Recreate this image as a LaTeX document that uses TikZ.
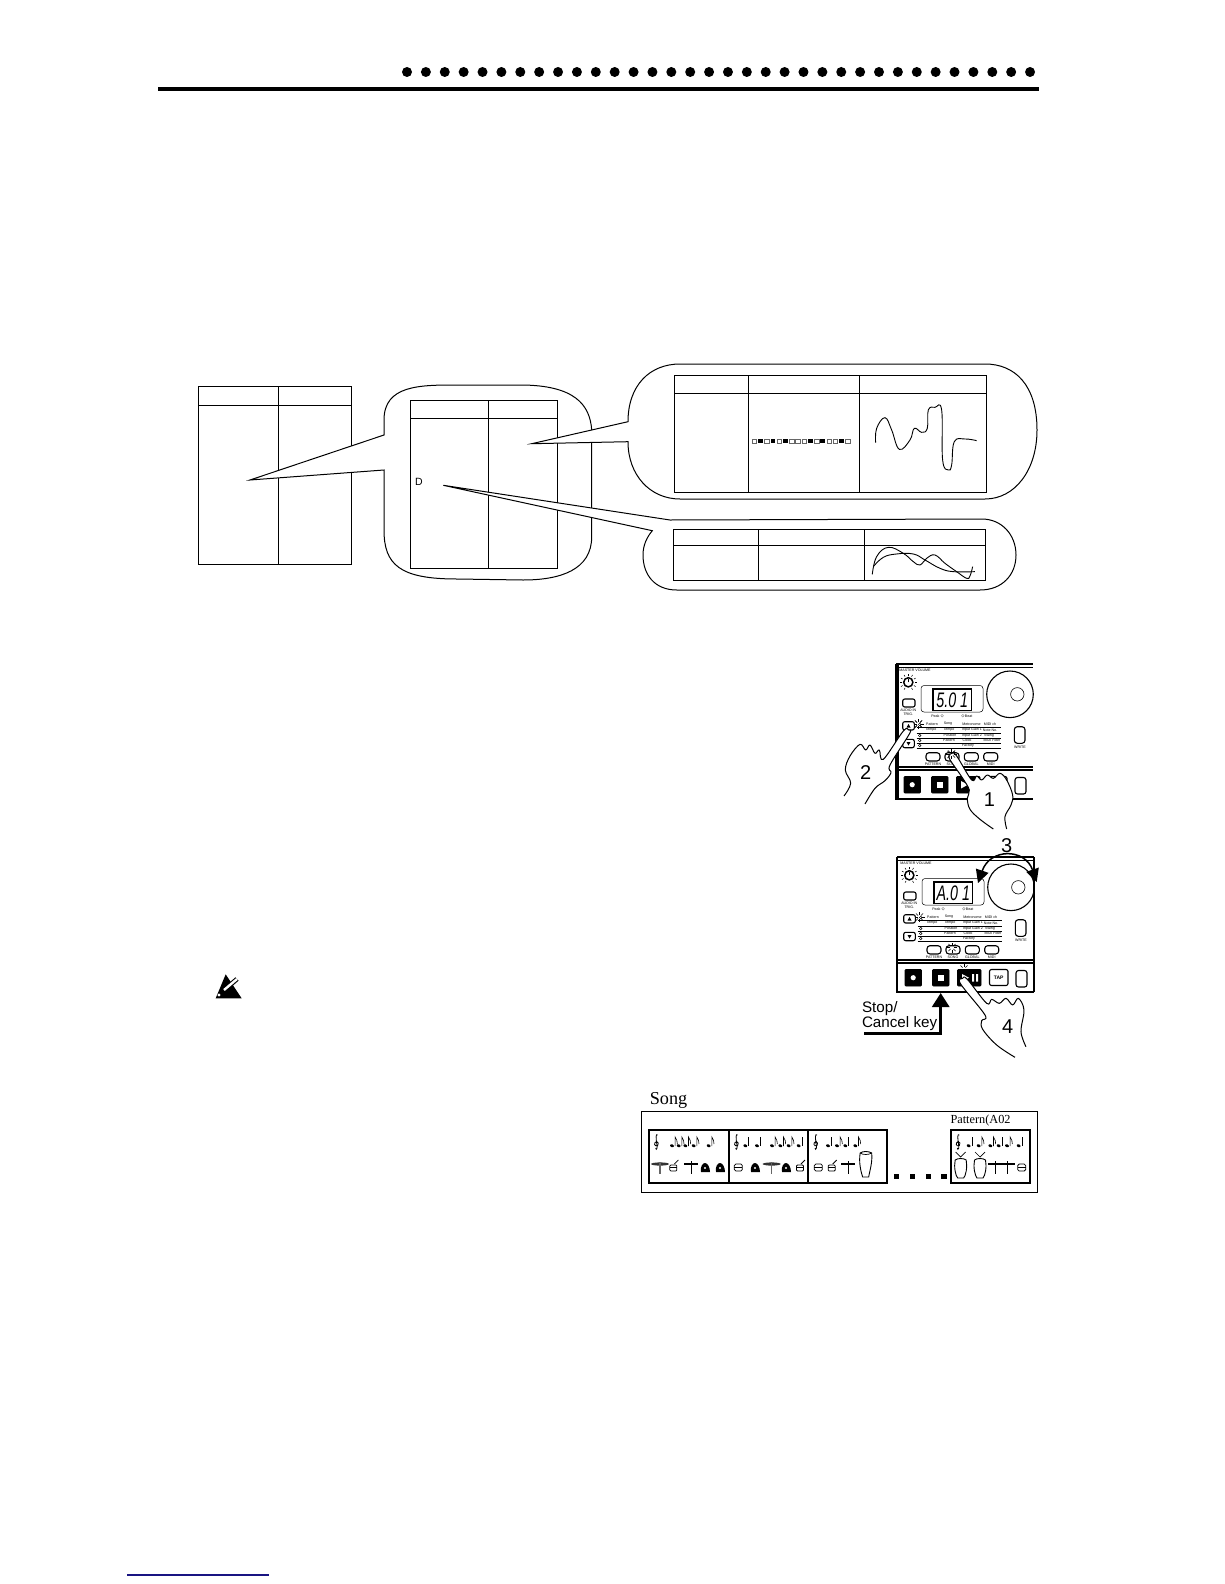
\documentclass[tikz,border=0pt]{standalone}
\usepackage{fontspec}
\setmainfont{Liberation Sans}
\newfontfamily\songfont{Liberation Serif}
\usetikzlibrary{arrows.meta,calc}
\definecolor{footblue}{RGB}{25,20,130}

\begin{document}
\begin{tikzpicture}[x=1pt,y=-1pt,line width=1pt,>={Triangle[length=13pt,width=13pt]},
    hdot/.style={circle,fill,inner sep=0pt,minimum size=10pt},
    grid/.style={draw,line width=1pt},
    bubble/.style={draw,fill=white,line width=1pt},
    curve/.style={line width=.9pt,smooth,tension=.7},
    hand/.style={draw,fill=white,line width=1pt,line join=round},
    third/.style={x=.3333pt,y=-.3333pt},
    numlabel/.style={font=\fontsize{20}{20}\selectfont,inner sep=0pt},
    paneltext/.style={font=\fontsize{3.6}{4}\selectfont,inner sep=0pt},
    softbutton/.style={draw,fill=white,rounded corners=2pt,line width=1.1pt},
    blackbutton/.style={draw,fill=black,line width=.8pt,rounded corners=1pt},
    frame/.style={draw,line width=2pt},
    flash/.pic={\foreach \a in {0,45,...,315} \draw[line width=.6pt] (\a:2pt) -- (\a:5pt);},
    clef/.pic={\draw[line width=.8pt] (1,-7) .. controls (-1,-9) and (-1,-4) .. (.5,4) .. controls (1,8) and (-2,8) .. (-1,6);
               \draw[line width=.8pt] (.5,-1) .. controls (-4,1) and (-2,5) .. (1,3.5) .. controls (3,2) and (1,-1) .. (-.5,1);},
    qnote/.pic={\fill[rotate=-20] (0,4) ellipse (2pt and 1.4pt); \draw[line width=.6pt] (1.8,4) -- (1.8,-5);},
    enote/.pic={\fill[rotate=-20] (0,4) ellipse (2pt and 1.4pt); \draw[line width=.6pt] (1.8,4) -- (1.8,-5) .. controls (2.5,-2) and (5,-1) .. (4,2);},
    cymbal/.pic={\fill[black!80] (0,-2) ellipse (9pt and 1.6pt); \draw[line width=1.2pt,black!60] (0,-4) -- (0,8);},
    tstand/.pic={\draw[line width=1.2pt] (-7,-2) -- (7,-2); \draw[line width=.9pt] (0,-5) -- (0,8);},
    drum/.pic={\draw[line width=.8pt,rounded corners=1.5pt] (-4,-3) rectangle (4,4); \draw[line width=.7pt] (-4,0) -- (4,0);},
    snare/.pic={\draw[line width=.8pt,rounded corners=1pt] (-3.5,-1) rectangle (3.5,5); \draw[line width=.7pt] (-3.5,1) -- (3.5,1); \draw[line width=.8pt] (1,-2) -- (5,-6);},
    bell/.pic={\fill (-4,5) .. controls (-5,-1) and (-2,-4) .. (0,-4) .. controls (3,-4) and (5,1) .. (5,5) -- cycle; \fill[white] (0,1) circle (1.2pt);},
    conga/.pic={\draw[line width=.9pt] (-5.5,-12) .. controls (-3,-14) and (3,-14) .. (6,-12) .. controls (7,-3) and (4,6) .. (3,12) -- (-3,12) .. controls (-5,6) and (-7,-3) .. (-5.5,-12);
                \draw[line width=.7pt] (-5.5,-12) .. controls (-3,-10) and (3,-10) .. (6,-12);},
    stickconga/.pic={\draw[line width=.9pt] (-5.5,-5) .. controls (-3,-7) and (3,-7) .. (5.5,-5) .. controls (7,2) and (5,11) .. (3,13) -- (-3,13) .. controls (-5,11) and (-7,2) .. (-5.5,-5);
                \draw[line width=.7pt] (-5,-13) -- (0,-8) -- (5,-13);},
    panel/.pic={
        % outline of the unit
        \draw[line width=1.2pt] (0,0) -- (137,0) (0,3.2) -- (137,3.2) (0,0) -- (0,135) -- (137,135);
        \draw[line width=1.2pt] (0,103) -- (137,103) (0,106) -- (137,106);
        \node[paneltext] (vollabel) at (19,6.5) {MASTER VOLUME};
        \draw[line width=1.5pt] (12.3,18.3) circle (4.6pt);
        \draw[line width=1pt] (12.3,18.3) -- (12.3,14.5);
        \foreach \a in {-60,-30,...,240} \draw[line width=.5pt] ($(12.3,18.3)+(\a:6.5pt)$) -- ($(12.3,18.3)+(\a:8.5pt)$);
        \draw[line width=.5pt,rounded corners=3pt] (25,21.5) rectangle (87,48);
        \draw[line width=1.2pt] (37,25) rectangle (75.5,46.5);
        \node[inner sep=0pt,font=\fontsize{21}{21}\selectfont\itshape] (digits) at (56.3,36) {\scalebox{.68}[1]{#1}};
        \draw[line width=1.1pt] (114,30.3) circle (23.3pt);
        \draw[line width=.6pt] (121.3,30.3) circle (6.7pt);
        \draw[softbutton] (6.7,35) rectangle (19,43);
        \node[paneltext,align=center] (trig) at (12.3,48) {AUDIO IN\\TRIG.};
        \node[paneltext] (peak) at (41.7,52.7) {Peak $\diamond$};
        \node[paneltext] (beat) at (70.7,52.7) {$\diamond$Beat};
        \draw[softbutton] (6.7,57.7) rectangle (18.3,66);
        \fill (12.5,60) -- (14.5,63.5) -- (10.5,63.5) -- cycle;
        \draw[softbutton] (6.7,75.3) rectangle (18.3,83.7);
        \fill (12.5,81.5) -- (14.5,78) -- (10.5,78) -- cycle;
        \foreach \ly in {63.7,69,74.3,79.7,84.7} \draw[line width=.8pt] (20.7,\ly) -- (105.3,\ly);
        \foreach \ly in {63,74,79,84} \draw[line width=.4pt] (23.7,\ly-2.5) circle (1.3pt);
        \foreach \tx/\ty/\ct [count=\n] in {36/60/Pattern,52/60/Song,75.5/60/Metronome,94/60/MIDI ch,
            35/66/Tempo,53/66/Tempo,76/66/Input Gain 1,94/66/Note No.,
            54/71.5/Position,76/71.5/Input Gain 2,93/71.5/Swing,
            53/76.5/Pattern,71/76.5/Clock,96/76.5/MIDI Filter,72/81.5/Factory}
            \node[paneltext] (cell\n) at (\tx,\ty) {\ct};
        \draw[softbutton,rounded corners=3pt] (118.3,62.7) rectangle (129,79.3);
        \node[paneltext] (write) at (124,83) {WRITE};
        \foreach \bx/\bt [count=\n] in {30/PATTERN,49/SONG,68.3/GLOBAL,87.7/MIDI} {
            \draw[softbutton,rounded corners=3pt] (\bx,88.7) rectangle (\bx+14,97);
            \node[paneltext] (mode\n) at (\bx+7,100.5) {\bt};
        }
        \draw[blackbutton] (8,112.5) rectangle (24.5,129);
        \fill[white] (16.2,120.7) circle (2.6pt);
        \draw[blackbutton] (35.5,112.5) rectangle (52,129);
        \fill[white] (41,118) rectangle (46.5,123.5);
        \draw[blackbutton] (60.5,112.5) rectangle (84,129);
        \fill[white] (65,117) -- (72,120.7) -- (65,124.5) -- cycle;
        \fill[white] (75,117) rectangle (77,124.5) (79,117) rectangle (81,124.5);
        \draw[softbutton] (92.5,112.5) rectangle (111,128.5);
        \node[paneltext,font=\fontsize{5}{5}\selectfont\bfseries] (tap) at (101.7,120.5) {TAP};
        \draw[softbutton,rounded corners=2.5pt] (119,113.5) rectangle (130,130);
        \pic at (22.5,60) {flash};
        \pic at (55,90.5) {flash};
    }]
\useasboundingbox (0,0) rectangle (1224,1584);

% page head and foot
\foreach \i in {0,...,33} \node[hdot] (dot\i) at ({407+18.88*\i},72) {};
\draw[line width=4pt] (158,88.7) -- (1039,88.7);
\draw[line width=1.3pt,footblue] (127,1575) -- (269,1575);

% first table
\draw[grid] (198.3,386.3) rectangle (351.7,564.3);
\draw[grid] (198.3,405) -- (351.7,405) (278.3,386.3) -- (278.3,564.3);

% second balloon
\draw[bubble] (384,435) -- (384,420) .. controls (384,385) and (420,385) .. (457,385) -- (520,385)
    .. controls (575,385) and (590,405) .. (591.7,430) -- (591.7,536.7)
    .. controls (591.7,570) and (560,580) .. (523,580) -- (457,579)
    .. controls (400,579) and (384,565) .. (384,530) -- (384,470) -- (250,480) -- cycle;
\draw[grid] (410.3,400.3) rectangle (557.3,568.3);
\draw[grid] (410.3,418.3) -- (557.3,418.3) (488.3,400.3) -- (488.3,568.3);
\node[inner sep=0pt,font=\fontsize{10.5}{10.5}\selectfont] (dlabel) at (419,482.3) {D};

% upper balloon
\draw[bubble] (628,421.7) .. controls (628,385) and (650,364) .. (680,364) -- (985,364)
    .. controls (1015,364) and (1037,385) .. (1037,430) .. controls (1037,470) and (1015,499) .. (985,499) -- (680,499)
    .. controls (650,499) and (628,475) .. (628,441.7) -- (531.7,443.7) -- cycle;
\draw[grid] (674.3,375) rectangle (986.7,492);
\draw[grid] (674.3,393.3) -- (986.7,393.3) (748.3,375) -- (748.3,492) (859.3,375) -- (859.3,492);
\foreach \k [count=\n from 0] in {0,1,0,1,0,1,0,0,0,1,0,1,0,0,1,0} {
    \ifnum\k=1
        \fill ({754.3+6.22*\n-2.3},438.7) rectangle ++(4.6,4.6);
    \else
        \draw[line width=.4pt,black!60] ({754.3+6.22*\n-2.2},438.8) rectangle ++(4.4,4.4);
    \fi
}
\begin{scope}[shift={(620,350)},third]
\draw[curve] plot coordinates {(767,278) (770,235) (795,203) (815,240) (838,298) (870,270) (883,235) (905,247) (922,235) (925,180) (945,172) (965,180) (968,330) (985,360) (995,345) (1003,275) (1035,267) (1070,272)};
\end{scope}

% lower balloon
\draw[bubble] (670,520) -- (981.7,519) .. controls (1002,519) and (1016,535) .. (1016,555)
    .. controls (1016,575) and (1002,590) .. (980,590) -- (676.7,590)
    .. controls (655,590) and (643,575) .. (643,555) .. controls (643,545) and (647,537) .. (652.3,530.7)
    -- (443.3,485.3) -- cycle;
\draw[grid] (673.3,529.7) rectangle (985.7,580.3);
\draw[grid] (673.3,545.3) -- (985.7,545.3) (758.3,529.7) -- (758.3,580.3) (864.3,529.7) -- (864.3,580.3);
\begin{scope}[shift={(620,350)},third]
\draw[curve] plot coordinates {(757,673) (770,620) (805,592) (850,610) (880,635) (900,645) (920,625) (945,615) (975,640) (1010,665) (1040,685) (1050,678) (1058,650)};
\draw[curve] plot coordinates {(760,650) (790,622) (830,612) (880,612) (915,630) (960,655) (1000,665) (1065,665)};
\end{scope}

% first unit with hands
\pic at (896,664) {panel={5.0 1}};
\draw[line width=1.1pt] (898,664) -- (898,799);
\begin{scope}[shift={(820,650)},third]
\draw[hand] plot[smooth,tension=.6] coordinates {(72,438) (92,400) (76,360) (90,318) (120,283) (137,300) (150,285) (165,310) (178,300) (190,328) (250,243) (266,240) (268,252) (210,345) (213,368) (195,392) (165,415) (135,462)};
\end{scope}
\begin{scope}[shift={(830,730)},third]
\draw[hand] plot[smooth,tension=.6] coordinates {(490,297) (450,268) (420,238) (412,205) (418,180) (395,140) (358,85) (365,70) (380,78) (425,150) (440,138) (455,150) (472,135) (490,145) (510,130) (530,150) (548,195) (543,225) (525,260) (530,297)};
\end{scope}
\pic at (918.5,724) {flash};
\pic at (951.5,754) {flash};
\node[numlabel] (handtwo) at (865.7,772.7) {2};
\node[numlabel] (handone) at (989.3,799.3) {1};

% second unit with hands
\pic at (897,857) {panel={A.0 1}};
\draw[line width=1.1pt] (1034,857) -- (1034,992);
\pic at (964,969) {flash};
\begin{scope}[shift={(840,830)},third]
\draw[hand] plot[smooth,tension=.6] coordinates {(525,682) (470,645) (428,598) (425,572) (435,555) (362,462) (368,445) (382,448) (440,520) (455,508) (478,520) (498,505) (518,525) (535,505) (552,540) (543,605) (558,650)};
\end{scope}
\node[numlabel] (handfour) at (1007.7,1026.7) {4};
\coordinate (dialleft) at (978,883);
\coordinate (dialright) at (1036.7,882);
\draw[<->,line width=1.5pt] (dialleft) .. controls (990,848) and (1025,848) .. (dialright);
\node[numlabel] (handthree) at (1006.7,846) {3};

% stop key
\node[anchor=north west,inner sep=0pt,align=left,font=\fontsize{15.2}{13.6}\selectfont] (stoplabel) at (861.5,1001) {Stop/\\Cancel key};
\coordinate (stopfoot) at (864,1033);
\coordinate (stopkey) at (940.7,993);
\draw[-{Triangle[length=14pt,width=17pt]},line width=3pt] (stopfoot) -| (stopkey);

% warning mark
\fill (215.7,998.3) -- (225.7,974.3) -- (241.7,998.3) -- cycle;
\draw[line width=4.6pt] (222,992) -- (237,979);
\draw[line width=2.4pt,white] (224,990) -- (237,979);
\fill[white] (219,995) circle (1.7pt);

% song strip
\node[anchor=west,inner sep=0pt,font=\songfont\fontsize{18.2}{18.2}\selectfont] (songlabel) at (649.3,1100) {Song};
\draw[line width=1pt] (641.7,1111.7) rectangle (1037.3,1192.3);
\node[anchor=west,inner sep=0pt,font=\songfont\fontsize{12.3}{12.3}\selectfont] (patternlabel) at (950,1121) {Pattern(A02};
\draw[frame] (649,1130) rectangle (887.3,1183.3);
\draw[frame] (729,1130) -- (729,1183.3) (808.3,1130) -- (808.3,1183.3);
\draw[frame] (950.7,1130) rectangle (1030,1183.3);
\foreach \X in {800,848,895,942} \fill ({630+\X/3-2.7},1174) rectangle ++(5.4,5.4);
\foreach \X in {80,320,558,985} \pic at ({630+\X/3},1142) {clef};
\foreach \X in {130,150,170,195,240,430,455,480,625,680,1050,1085,1135} \pic at ({630+\X/3},1142) {enote};
\foreach \X in {350,385,510,598,650,1020,1110,1170} \pic at ({630+\X/3},1142) {qnote};
\foreach \X in {90,425} \pic at ({630+\X/3},1166) {cymbal};
\foreach \X in {183,655,1095,1133} \pic at ({630+\X/3},1166) {tstand};
\foreach \X in {130,510,605} \pic at ({630+\X/3},1166) {snare};
\foreach \X in {325,565,1175} \pic at ({630+\X/3},1167) {drum};
\foreach \X in {225,270,375,468} \pic at ({630+\X/3},1167) {bell};
\pic at ({630+707/3},1165) {conga};
\foreach \X in {992,1050} \pic at ({630+\X/3},1165) {stickconga};
\end{tikzpicture}
\end{document}
